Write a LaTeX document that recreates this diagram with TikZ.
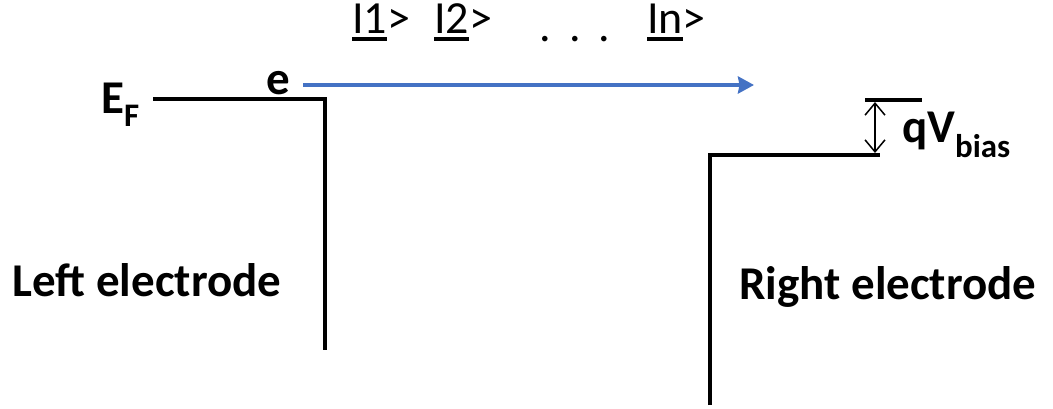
\documentclass[tikz,border=0pt]{standalone}
\usepackage{fontspec}
\setmainfont{Carlito}
\usetikzlibrary{arrows.meta}
\definecolor{arrowblue}{HTML}{4472C4}
\tikzset{
  band/.style={line width=3.5pt, black},
  lbl/.style={font=\fontsize{47}{51}\selectfont\bfseries, inner sep=0pt},
  state/.style={font=\fontsize{46}{50}\selectfont, inner sep=0pt, anchor=base west},
}
\newcommand{\ulthick}[1]{\setbox0\hbox{#1}\rlap{\rule[-7.5pt]{\wd0}{4.5pt}}\box0}
\begin{document}
\begin{tikzpicture}[x=1pt,y=-1pt]
\useasboundingbox (0,0) rectangle (1053,409);
% left electrode
\coordinate (lA) at (153,99);
\coordinate (lB) at (325,99);
\coordinate (lC) at (325,350);
\draw[band] (lA) -- (lB) -- (lC);
% right electrode
\coordinate (rA) at (710,405);
\coordinate (rB) at (710,155);
\coordinate (rC) at (880,155);
\draw[band] (rA) -- (rB) -- (rC);
\coordinate (uA) at (865,100);
\coordinate (uB) at (922,100);
\draw[band] (uA) -- (uB);
% bias arrow
\coordinate (bT) at (875,102);
\coordinate (bB) at (875,153);
\draw[line width=1.5pt, {Straight Barb[length=12pt,width=20pt]}-{Straight Barb[length=12pt,width=20pt]}] (bT) -- (bB);
% electron arrow
\coordinate (eS) at (303,85);
\coordinate (eE) at (754,85);
\draw[arrowblue, line width=3.5pt, -{Stealth[length=16pt,width=17pt,inset=1.5pt]}] (eS) -- (eE);
% labels
\node[lbl, anchor=base west] (ef) at (101,114) {E\textsubscript{F}};
\node[lbl, anchor=base] (e) at (278,95) {e};
\node[lbl, anchor=base west] (qv) at (902,143) {qV\textsubscript{bias}};
\node[lbl, anchor=base] (le) at (147,296) {Left electrode};
\node[lbl, anchor=base] (re) at (888,299) {Right electrode};
% states
\node[state] (s1) at (352,34) {\ulthick{I1}>};
\node[state] (s2) at (434,34) {\ulthick{I2}>};
\node[state, anchor=base] (sd) at (575,42) {.\ \,.\ \,.};
\node[state] (sn) at (647,34) {\ulthick{In}>};
\end{tikzpicture}
\end{document}
